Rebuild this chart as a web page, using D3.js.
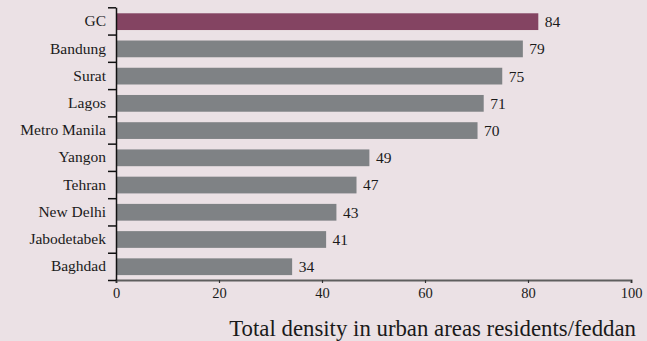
<!DOCTYPE html>
<html><head><meta charset="utf-8">
<script src="https://cdn.jsdelivr.net/npm/d3@7"></script>
<style>
html,body{margin:0;padding:0;background:#ebe1e5;}
svg{display:block;}
svg text{font-family:"Liberation Serif","DejaVu Serif",serif;fill:#1a1a1a;}
</style></head>
<body>
<script>
const categories = ["GC","Bandung","Surat","Lagos","Metro Manila","Yangon","Tehran","New Delhi","Jabodetabek","Baghdad"];
const barValues = [82, 79, 75, 71.4, 70.2, 49.2, 46.7, 42.8, 40.8, 34.2];
const valueLabels = ["84","79","75","71","70","49","47","43","41","34"];
const xTicks = [0,20,40,60,80,100];
const xTitle = "Total density in urban areas residents/feddan";

const FONT = "Liberation Serif, DejaVu Serif, serif";
const W = 647, H = 341;
const svg = d3.select("body").append("svg").attr("width", W).attr("height", H);
svg.append("rect").attr("width", W).attr("height", H).attr("fill", "#ebe1e5");

const x = d3.scaleLinear().domain([0,100]).range([116, 631]);
const y = d3.scaleBand().domain(categories).range([7.3, 280]).paddingInner(0.385).paddingOuter(0.2).align(0.55);
const yb = d3.scaleLinear().domain([0, categories.length]).range([7.3, 280]);

// bars
svg.append("g").selectAll("rect").data(categories).join("rect")
  .attr("x", x(0))
  .attr("y", d => y(d))
  .attr("width", (d,i) => x(barValues[i]) - x(0))
  .attr("height", y.bandwidth())
  .attr("fill", (d,i) => i === 0 ? "#844462" : "#7f8285");

// value labels
svg.append("g").selectAll("text").data(categories).join("text")
  .attr("x", (d,i) => x(barValues[i]) + 6.5)
  .attr("y", d => y(d) + y.bandwidth()/2)
  .attr("dy", "0.35em")
  .attr("font-family", FONT)
  .attr("font-size", 15.5)
  .text((d,i) => valueLabels[i]);

// x axis
const gx = svg.append("g").attr("transform", "translate(0,280)")
  .call(d3.axisBottom(x).tickValues(xTicks).tickSize(3).tickSizeOuter(3).tickPadding(5).tickFormat(d3.format("d")));
gx.attr("font-family", FONT);
gx.select(".domain").attr("stroke", "#5e5e5e").attr("stroke-width", 2);
gx.selectAll(".tick line").attr("stroke", "#333").attr("stroke-width", 1.2);
gx.selectAll(".tick text").attr("font-size", 14.5).attr("fill", "#1a1a1a");

// y axis
const gy = svg.append("g").attr("transform", "translate(116,0)")
  .call(d3.axisLeft(yb).tickValues(d3.range(categories.length + 1)).tickSize(8).tickSizeOuter(0).tickFormat(""));
gy.select(".domain").attr("stroke", "#111").attr("stroke-width", 1.5);
gy.selectAll(".tick line").attr("stroke", "#111").attr("stroke-width", 1.5);

// category labels
svg.append("g").selectAll("text").data(categories).join("text")
  .attr("x", 106)
  .attr("y", d => y(d) + y.bandwidth()/2)
  .attr("dy", "0.3em")
  .attr("text-anchor", "end")
  .attr("font-family", FONT)
  .attr("font-size", 15.5)
  .text(d => d);

// x title
svg.append("text")
  .attr("x", 636).attr("y", 335.5)
  .attr("text-anchor", "end")
  .attr("font-family", FONT)
  .attr("font-size", 22.8)
  .text(xTitle);
</script>
</body></html>
